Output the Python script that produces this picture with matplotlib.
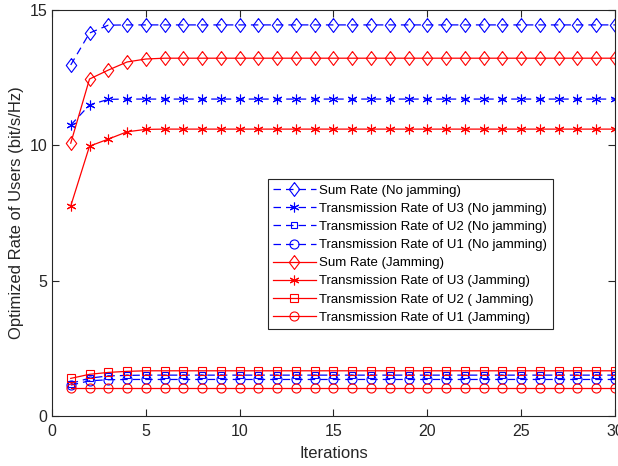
import matplotlib.pyplot as plt
import numpy as np

plt.rcParams['font.family'] = ['Liberation Sans', 'DejaVu Sans']

iters = np.arange(1, 31)

# no jamming
sum_nj = [12.97, 14.15, 14.44] + [14.45] * 27
u3_nj = [10.75, 11.49, 11.70] + [11.71] * 27
u2_nj = [1.20, 1.40, 1.48, 1.50] + [1.51] * 26
u1_nj = [1.14, 1.30, 1.34] + [1.35] * 27

# jamming
sum_j = [10.08, 12.45, 12.78, 13.08, 13.19] + [13.22] * 25
u3_j = [7.76, 9.97, 10.23, 10.50, 10.59] + [10.60] * 25
u2_j = [1.39, 1.54, 1.61, 1.65] + [1.67] * 26
u1_j = [1.02] * 30

labels = ['Sum Rate (No jamming)',
          'Transmission Rate of U3 (No jamming)',
          'Transmission Rate of U2 (No jamming)',
          'Transmission Rate of U1 (No jamming)',
          'Sum Rate (Jamming)',
          'Transmission Rate of U3 (Jamming)',
          'Transmission Rate of U2 ( Jamming)',
          'Transmission Rate of U1 (Jamming)']

# matlab-like markers: narrow diamond and line asterisk
diamond = [(0, 1), (0.75, 0), (0, -1), (-0.75, 0), (0, 1)]
star = (6, 2, 0)

fig = plt.figure(figsize=(6.18, 4.66), dpi=100)
ax = fig.add_axes([0.0841, 0.1073, 0.9109, 0.8712])

dash = (0, (6, 4))
common = dict(lw=0.9, mew=0.8)
ax.plot(iters, sum_nj, color='b', ls=dash, marker=diamond, ms=10, mfc='none', label=labels[0], **common)
ax.plot(iters, u3_nj, color='b', ls=dash, marker=star, ms=7, label=labels[1], **common)
ax.plot(iters, u2_nj, color='b', ls=dash, marker='s', ms=5, mfc='none', label=labels[2], **common)
ax.plot(iters, u1_nj, color='b', ls=dash, marker='o', ms=6.5, mfc='none', label=labels[3], **common)
ax.plot(iters, sum_j, color='r', ls='-', marker=diamond, ms=10, mfc='none', label=labels[4], **common)
ax.plot(iters, u3_j, color='r', ls='-', marker=star, ms=7, label=labels[5], **common)
ax.plot(iters, u2_j, color='r', ls='-', marker='s', ms=5.5, mfc='none', label=labels[6], **common)
ax.plot(iters, u1_j, color='r', ls='-', marker='o', ms=6.5, mfc='none', label=labels[7], **common)

ax.set_xlim(0, 30)
ax.set_ylim(0, 15)
ax.set_xticks(np.arange(0, 31, 5))
ax.set_yticks([0, 5, 10, 15])

gray = '#262626'
for s in ax.spines.values():
    s.set_color(gray)
    s.set_linewidth(0.8)
ax.tick_params(direction='in', top=True, right=True, colors=gray, labelsize=11.5, length=5, width=0.8)
ax.tick_params(axis='x', pad=6)
ax.set_xlabel('Iterations', fontsize=12, color=gray, labelpad=5)
ax.set_ylabel('Optimized Rate of Users (bit/s/Hz)', fontsize=12, color=gray, labelpad=4)

leg = ax.legend(loc='upper left', bbox_to_anchor=(0.3838, 0.5835), borderaxespad=0, fontsize=9.5,
                handlelength=3.2, labelspacing=0.45, borderpad=0.4, handletextpad=0.3,
                fancybox=False, framealpha=1, edgecolor=gray)
leg.get_frame().set_linewidth(0.8)

fig.savefig('out.png', dpi=100)
